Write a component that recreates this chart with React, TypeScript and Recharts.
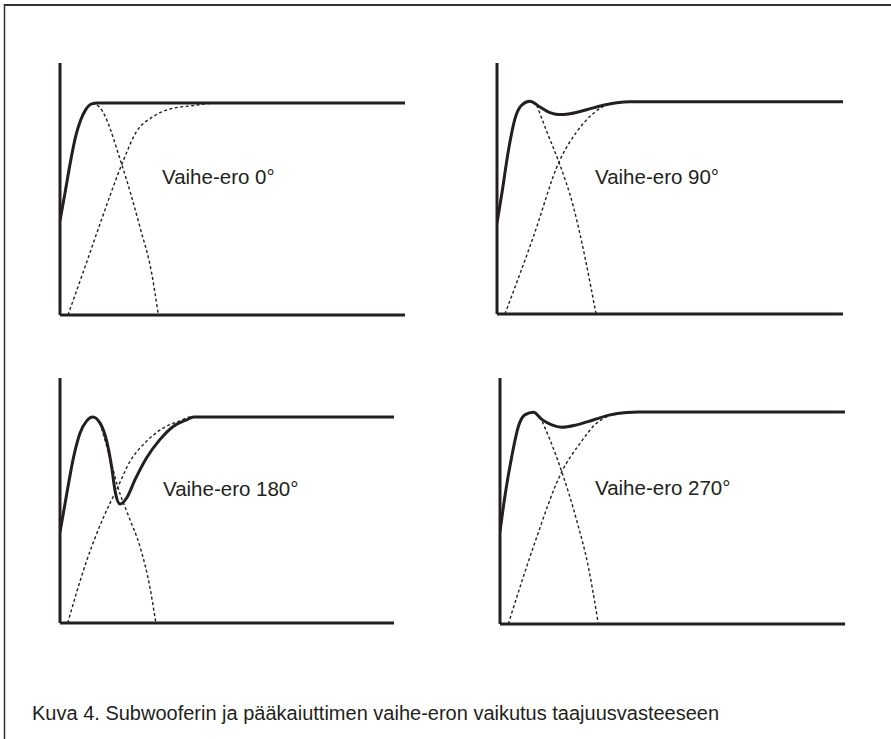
import React from 'react';
import { LineChart, Line, XAxis, YAxis } from 'recharts';

type Pt = [number, number];

const INK = '#231f20';
const FONT = '"Liberation Sans", Arial, Helvetica, sans-serif';

// x: 0..100 across the plot, y: 0 = x axis, 100 = flat passband level
// phase difference 0°
const sum0: Pt[] = [[0, 44.5], [1.5, 58], [3, 72], [4.5, 84], [6, 92], [7.5, 97], [9, 99.5], [11, 100], [100, 100]];
const main0: Pt[] = [[2.3, 0], [7, 21.5], [11.6, 43], [17.9, 71], [22.2, 86.6], [27, 93.6], [31.9, 97.2], [38.6, 98.8], [45, 100], [100, 100]];
const sub0: Pt[] = [[9.3, 100], [11.6, 97.8], [17.9, 71], [23.2, 41.3], [26.6, 19.5], [28.5, 0]];

// phase difference 90°
const sum90: Pt[] = [[0, 42.8], [1.4, 56.7], [3.3, 77], [5.2, 92], [7.1, 98.3], [9.5, 100.2], [12.4, 97.5], [15.3, 94.8], [17.7, 93.9], [21.1, 94.3], [25.9, 96.2], [30.7, 98.3], [34.6, 99.5], [38.4, 100], [100, 100]];
const main90: Pt[] = [[2.3, 0], [10.5, 36.3], [17.9, 71.5], [23, 85.7], [27.8, 94.4], [32.7, 99], [37.1, 99.8], [42, 100], [100, 100]];
const sub90: Pt[] = [[11.5, 98.3], [14.8, 84.2], [17.9, 71.5], [22.1, 50.4], [25.4, 26.9], [28.6, 0]];

// phase difference 180°
const sum180: Pt[] = [[0, 44], [2, 62.5], [4, 80], [6, 92.2], [8, 98.1], [9.8, 100], [12, 97], [14, 88.1], [15.5, 75.3], [16.5, 64], [18, 57.7], [20, 60.8], [22.5, 69.7], [25.9, 80.1], [29.9, 89], [33.9, 95.4], [37.9, 98.6], [40, 100], [100, 100]];
const main180: Pt[] = [[2.3, 0], [8, 30.3], [13, 51.2], [17, 64.9], [21, 78.5], [25.9, 88.2], [30.9, 94.6], [35.9, 98.1], [39, 100], [100, 100]];
const sub180: Pt[] = [[12, 97], [15, 80], [17.3, 66], [20.5, 52], [24, 36.8], [26.9, 17.5], [28.7, 0]];

// phase difference 270°
const sum270: Pt[] = [[0, 43.5], [1.4, 60], [3.4, 78.9], [5.3, 93], [7.2, 98.6], [9.7, 99.8], [12.1, 96.5], [15, 93.9], [17.9, 92.8], [22.2, 93.9], [27, 96.2], [31.9, 98.6], [36.7, 99.7], [40, 100], [100, 100]];
const main270: Pt[] = [[2.4, 0], [9.7, 36.5], [17.9, 71.8], [23.2, 85.2], [28, 94.7], [31.9, 98.3], [36.7, 99.7], [40, 100], [100, 100]];
const sub270: Pt[] = [[11.6, 97.8], [14.5, 86.8], [17.9, 71.8], [22.2, 49], [25.6, 27], [28.5, 0]];

const phaseLabels = ['Vaihe-ero 0°', 'Vaihe-ero 90°', 'Vaihe-ero 180°', 'Vaihe-ero 270°'];
const yTops = [118.9, 118.2, 118.9, 116];
const caption = 'Kuva 4. Subwooferin ja pääkaiuttimen vaihe-eron vaikutus taajuusvasteeseen';

const series = [
  { sum: sum0, main: main0, sub: sub0 },
  { sum: sum90, main: main90, sub: sub90 },
  { sum: sum180, main: main180, sub: sub180 },
  { sum: sum270, main: main270, sub: sub270 },
];

// plot boxes on the page and where each label sits
const boxes = [
  { left: 60, top: 63, w: 345, h: 252, lx: 162, ly: 184 },
  { left: 497, top: 63, w: 346, h: 251, lx: 595, ly: 184 },
  { left: 60, top: 378, w: 334, h: 245, lx: 163, ly: 496 },
  { left: 500, top: 378, w: 345, h: 246, lx: 595, ly: 495 },
];

const M = 4;
const AX = 1; // axis band reserved by recharts
const toXY = (pts: Pt[]) => pts.map(([x, y]) => ({ x, y }));

function Panel({ i }: { i: number }) {
  const b = boxes[i];
  const s = series[i];
  const dashed = { stroke: INK, strokeWidth: 1.4, strokeDasharray: '3 2.5', dot: false, type: 'monotone' as const, isAnimationActive: false };
  return (
    <div style={{ position: 'absolute', left: b.left - M, top: b.top - M }}>
      <LineChart width={b.w + 2 * M} height={b.h + 2 * M} margin={{ top: M, right: M, bottom: M - AX, left: M - AX }}>
        <XAxis type="number" dataKey="x" domain={[0, 100]} allowDataOverflow tick={false} tickLine={false} height={AX} axisLine={{ stroke: INK, strokeWidth: 3 }} />
        <YAxis type="number" domain={[0, yTops[i]]} allowDataOverflow tick={false} tickLine={false} width={AX} axisLine={{ stroke: INK, strokeWidth: 3 }} />
        <Line data={toXY(s.main)} dataKey="y" {...dashed} />
        <Line data={toXY(s.sub)} dataKey="y" {...dashed} />
        <Line data={toXY(s.sum)} dataKey="y" type="monotone" stroke={INK} strokeWidth={3} dot={false} isAnimationActive={false} />
      </LineChart>
    </div>
  );
}

export default function App() {
  return (
    <div style={{ position: 'absolute', left: 0, top: 0, width: 891, height: 739, background: '#fff', overflow: 'hidden' }}>
      {boxes.map((_, i) => (
        <Panel key={i} i={i} />
      ))}
      <svg width={891} height={739} style={{ position: 'absolute', left: 0, top: 0, pointerEvents: 'none' }}>
        <line x1={4} y1={5} x2={891} y2={5} stroke="#333" strokeWidth={2} />
        <line x1={4.5} y1={4} x2={4.5} y2={739} stroke="#333" strokeWidth={1.5} />
        {boxes.map((b, i) => (
          <text key={i} x={b.lx} y={b.ly} fontFamily={FONT} fontSize={20.5} fill={INK}>
            {phaseLabels[i]}
          </text>
        ))}
        <text x={32} y={720} fontFamily={FONT} fontSize={20} fill={INK}>
          {caption}
        </text>
      </svg>
    </div>
  );
}
